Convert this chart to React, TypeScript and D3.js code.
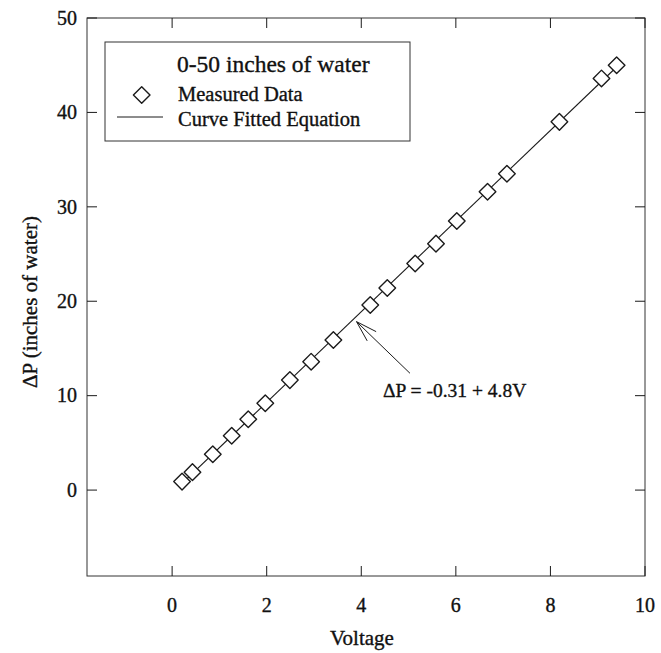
import React from "react";
import * as d3 from "d3";

// Data
const voltage = [0.21, 0.43, 0.86, 1.26, 1.61, 1.97, 2.49, 2.94, 3.41, 4.19, 4.55, 5.14, 5.58, 6.02, 6.67, 7.08, 8.19, 9.08, 9.4];
const deltaP = [0.9, 1.9, 3.8, 5.75, 7.5, 9.2, 11.65, 13.6, 15.9, 19.6, 21.4, 24.0, 26.1, 28.5, 31.6, 33.5, 39.0, 43.6, 45.0];
const xTicks = [0, 2, 4, 6, 8, 10];
const yTicks = [0, 10, 20, 30, 40, 50];
const fitIntercept = -0.31;
const fitSlope = 4.8;
const fitRange = [0.2, 9.4];
const legendTitle = "0-50 inches of water";
const legendItems = ["Measured Data", "Curve Fitted Equation"];
const equationText = "\u0394P = -0.31 + 4.8V";
const xLabel = "Voltage";
const yLabel = "\u0394P (inches of water)";
// annotation anchor points (data space)
const arrowTip = [3.9, 17.84];
const arrowTail = [5.03, 12.37];
const equationAnchor = [4.46, 9.86];

const W = 661;
const H = 653;
const left = 87, right = 645, top = 18, bottom = 576;
const FONT = "'Liberation Serif', 'Times New Roman', serif";

export default function App() {
  const x = d3.scaleLinear().domain([-1.8, 10]).range([left, right]);
  const y = d3.scaleLinear().domain([-9.1, 50]).range([bottom, top]);
  const tickLen = 10;

  const fitLine = d3
    .line<number>()
    .x((v) => x(v))
    .y((v) => y(fitIntercept + fitSlope * v));

  const diamond = (cx: number, cy: number, r: number) =>
    `M${cx},${cy - r}L${cx + r},${cy}L${cx},${cy + r}L${cx - r},${cy}Z`;

  // arrow geometry
  const tx = x(arrowTip[0]), ty = y(arrowTip[1]);
  const sx = x(arrowTail[0]), sy = y(arrowTail[1]);
  const ang = Math.atan2(sy - ty, sx - tx);
  const barbLen = 22, barbAng = (17 * Math.PI) / 180;
  const b1 = [tx + barbLen * Math.cos(ang + barbAng), ty + barbLen * Math.sin(ang + barbAng)];
  const b2 = [tx + barbLen * Math.cos(ang - barbAng), ty + barbLen * Math.sin(ang - barbAng)];

  const stroke = "#1a1a1a";
  const txt = { fill: "#111", stroke: "#111", strokeWidth: 0.35 };

  return (
    <svg
      width={W}
      height={H}
      style={{ position: "absolute", left: 0, top: 0, background: "#fff" }}
      fontFamily={FONT}
    >
      <rect x={0} y={0} width={W} height={H} fill="#fff" />
      {/* frame */}
      <rect x={left} y={top} width={right - left} height={bottom - top} fill="none" stroke="#333" strokeWidth={1} />

      {/* x ticks (bottom and top) */}
      {xTicks.map((t) => (
        <g key={"x" + t}>
          <line x1={x(t)} x2={x(t)} y1={bottom} y2={bottom - tickLen} stroke={stroke} />
          <line x1={x(t)} x2={x(t)} y1={top} y2={top + tickLen} stroke={stroke} />
          <text x={x(t)} y={612} textAnchor="middle" fontSize={20} {...txt}>
            {t}
          </text>
        </g>
      ))}
      {/* y ticks (left and right) */}
      {yTicks.map((t) => (
        <g key={"y" + t}>
          <line x1={left} x2={left + tickLen} y1={y(t)} y2={y(t)} stroke={stroke} />
          <line x1={right} x2={right - tickLen} y1={y(t)} y2={y(t)} stroke={stroke} />
          <text x={77} y={y(t)} dy="0.34em" textAnchor="end" fontSize={20} {...txt}>
            {t}
          </text>
        </g>
      ))}

      {/* axis labels */}
      <text x={362} y={645} textAnchor="middle" fontSize={21} {...txt}>
        {xLabel}
      </text>
      <text
        transform={`translate(37,${(top + bottom) / 2 + 5}) rotate(-90)`}
        textAnchor="middle"
        fontSize={21}
        {...txt}
      >
        {yLabel}
      </text>

      {/* fitted line */}
      <path d={fitLine(fitRange) || ""} fill="none" stroke={stroke} strokeWidth={1.1} />

      {/* measured data */}
      {voltage.map((v, i) => (
        <path
          key={"p" + i}
          d={diamond(x(v), y(deltaP[i]), 8.3)}
          fill="#fff"
          stroke={stroke}
          strokeWidth={1.4}
          strokeLinejoin="round"
        />
      ))}

      {/* annotation arrow */}
      <line x1={sx} y1={sy} x2={tx} y2={ty} stroke={stroke} strokeWidth={1} />
      <polyline
        points={`${b1[0]},${b1[1]} ${tx},${ty} ${b2[0]},${b2[1]}`}
        fill="none"
        stroke={stroke}
        strokeWidth={1}
      />
      <text x={x(equationAnchor[0])} y={y(equationAnchor[1])} fontSize={19.5} {...txt}>
        {equationText}
      </text>

      {/* legend */}
      <rect x={105} y={42} width={305} height={99} fill="#fff" stroke="#333" strokeWidth={1} />
      <text x={177} y={72} fontSize={23.5} {...txt}>
        {legendTitle}
      </text>
      <path d={diamond(141.7, 95, 8.3)} fill="#fff" stroke={stroke} strokeWidth={1.4} strokeLinejoin="round" />
      <text x={178} y={101} fontSize={20.5} {...txt}>
        {legendItems[0]}
      </text>
      <line x1={117} x2={163} y1={117} y2={117} stroke={stroke} strokeWidth={1} />
      <text x={178} y={126} fontSize={20.5} {...txt}>
        {legendItems[1]}
      </text>
    </svg>
  );
}
